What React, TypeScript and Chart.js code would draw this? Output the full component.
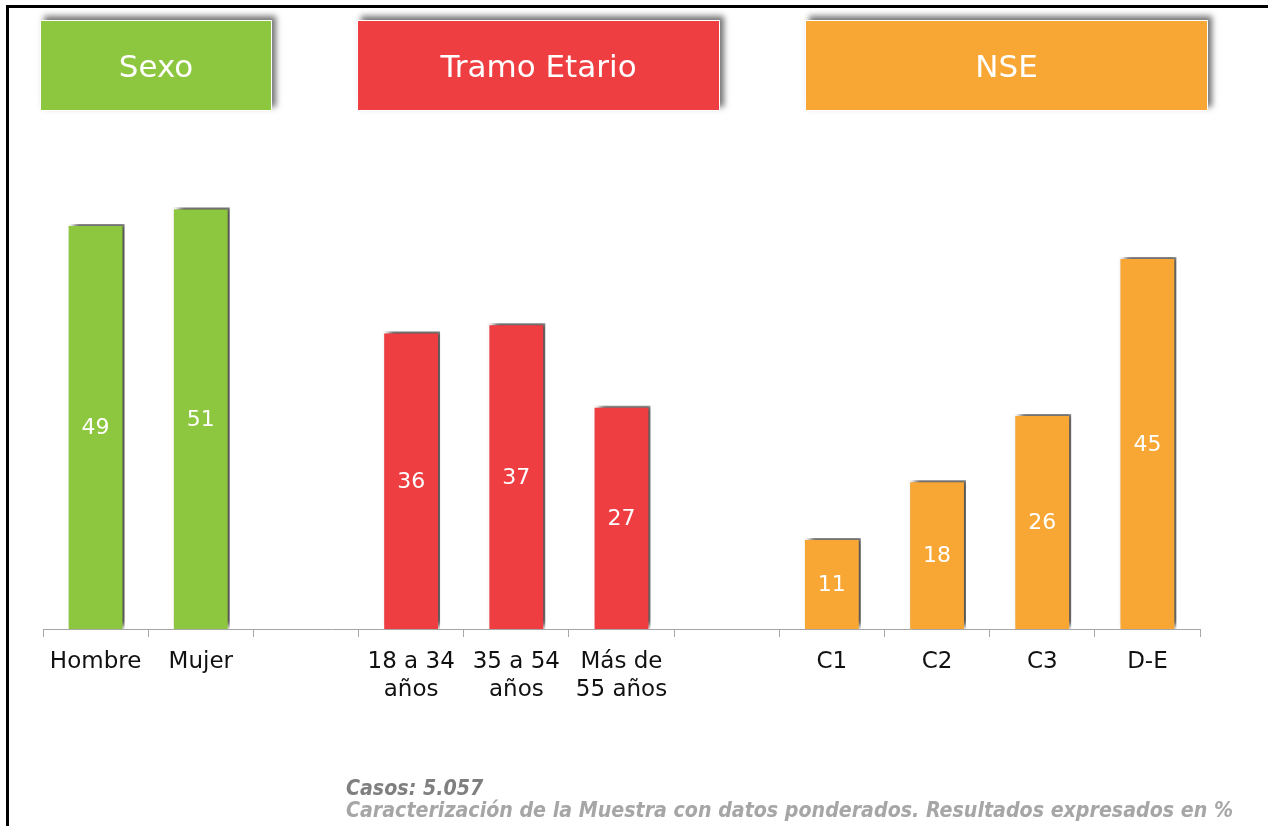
import React, { useEffect, useRef } from "react";
import { Chart, registerables } from "chart.js";

Chart.register(...registerables);

const sexoLabels: string[][] = [["Hombre"], ["Mujer"]];
const sexoValues: number[] = [49, 51];
const edadLabels: string[][] = [["18 a 34", "años"], ["35 a 54", "años"], ["Más de", "55 años"]];
const edadValues: number[] = [36, 37, 27];
const nseLabels: string[][] = [["C1"], ["C2"], ["C3"], ["D-E"]];
const nseValues: number[] = [11, 18, 26, 45];

const groupTitles = ["Sexo", "Tramo Etario", "NSE"];
const groupColors = ["#8DC63F", "#EF3E42", "#F8A735"];

const footLine1 = "Casos: 5.057";
const footLine2 = "Caracterización de la Muestra con datos ponderados. Resultados expresados en %";

const labels: string[][] = [...sexoLabels, [""], ...edadLabels, [""], ...nseLabels];
const values: (number | null)[] = [...sexoValues, null, ...edadValues, null, ...nseValues];
const barColors: string[] = [
  ...sexoValues.map(() => groupColors[0]),
  "transparent",
  ...edadValues.map(() => groupColors[1]),
  "transparent",
  ...nseValues.map(() => groupColors[2]),
];

const FONT = "'DejaVu Sans', Verdana, sans-serif";

const shadowPlugin = {
  id: "shadowAndLabels",
  beforeDatasetsDraw(chart: any) {
    const ctx = chart.ctx;
    ctx.save();
    ctx.shadowColor = "rgba(0,0,0,0.7)";
    ctx.shadowBlur = 6;
    ctx.shadowOffsetX = 5;
    ctx.shadowOffsetY = -3;
  },
  afterDatasetsDraw(chart: any) {
    const ctx = chart.ctx;
    ctx.restore();
    const meta = chart.getDatasetMeta(0);
    ctx.save();
    ctx.fillStyle = "#ffffff";
    ctx.font = `22px ${FONT}`;
    ctx.textAlign = "center";
    ctx.textBaseline = "middle";
    meta.data.forEach((bar: any, i: number) => {
      const v = values[i];
      if (v === null || v === undefined) return;
      const p = bar.getProps(["x", "y", "base"], true);
      ctx.fillText(String(v), p.x, (p.y + p.base) / 2 + 2);
    });
    ctx.restore();
  },
};

export default function App() {
  const canvasRef = useRef<HTMLCanvasElement>(null);

  useEffect(() => {
    if (!canvasRef.current) return;
    const chart = new Chart(canvasRef.current, {
      type: "bar",
      data: {
        labels: labels as any,
        datasets: [
          {
            data: values as any,
            backgroundColor: barColors,
            borderColor: "#ffffff",
            borderWidth: 2,
            barPercentage: 0.55,
            categoryPercentage: 1,
          },
        ],
      },
      options: {
        responsive: false,
        animation: false,
        layout: { padding: { left: 43, right: 68, top: 133, bottom: 0 } },
        plugins: {
          legend: { display: false },
          tooltip: { enabled: false },
        },
        scales: {
          x: {
            grid: {
              offset: true,
              drawOnChartArea: false,
              drawTicks: true,
              tickLength: 8,
              color: "#a6a6a6",
            },
            border: { color: "#a6a6a6", width: 1 },
            ticks: {
              color: "#111111",
              font: { family: FONT, size: 23, lineHeight: 1.22 },
              padding: 11,
              maxRotation: 0,
              autoSkip: false,
            },
            afterFit(scale: any) {
              scale.height = 197;
            },
          },
          y: { display: false, min: 0, max: 60 },
        },
      },
      plugins: [shadowPlugin],
    });
    return () => chart.destroy();
  }, []);

  const boxes = [
    { left: 40, width: 232 },
    { left: 357, width: 363 },
    { left: 805, width: 403 },
  ];

  return (
    <div style={{ position: "absolute", left: 0, top: 0, width: 1268, height: 826, background: "#fff", overflow: "hidden" }}>
      <div
        style={{
          position: "absolute",
          left: 6,
          top: 5,
          right: 0,
          bottom: -10,
          borderTop: "3px solid #000",
          borderLeft: "3px solid #000",
        }}
      />
      <canvas ref={canvasRef} width={1268} height={826} style={{ position: "absolute", left: 0, top: 0 }} />
      {boxes.map((b, i) => (
        <div
          key={i}
          style={{
            position: "absolute",
            left: b.left,
            top: 20,
            width: b.width,
            height: 91,
            boxSizing: "border-box",
            background: groupColors[i],
            border: "1px solid #ffffff",
            boxShadow: "4px -4px 6px rgba(0,0,0,0.55)",
            color: "#ffffff",
            fontFamily: FONT,
            fontSize: 31,
            display: "flex",
            alignItems: "center",
            justifyContent: "center",
          }}
        >
          {groupTitles[i]}
        </div>
      ))}
      <div
        style={{
          position: "absolute",
          left: 346,
          top: 777,
          fontFamily: "'DejaVu Sans Condensed', 'DejaVu Sans', sans-serif",
          fontStretch: "condensed",
          fontWeight: "bold",
          fontStyle: "italic",
          fontSize: 21.2,
          lineHeight: "22px",
          whiteSpace: "nowrap",
        }}
      >
        <div style={{ color: "#7f7f7f" }}>{footLine1}</div>
        <div style={{ color: "#a6a6a6" }}>{footLine2}</div>
      </div>
    </div>
  );
}
